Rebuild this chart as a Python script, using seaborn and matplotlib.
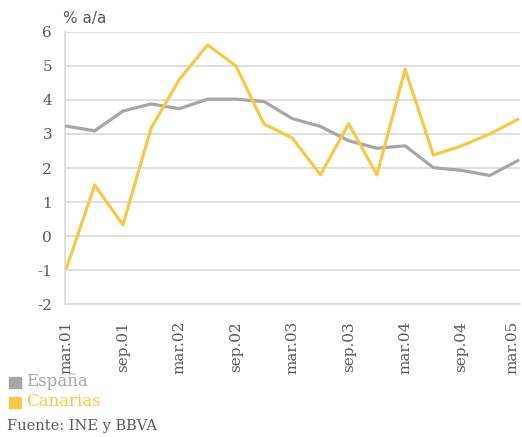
import matplotlib
matplotlib.use("Agg")
import matplotlib.pyplot as plt
import matplotlib.transforms as mtransforms
import seaborn as sns
import pandas as pd
from matplotlib.patches import Rectangle

quarters = ["mar.01", "jun.01", "sep.01", "dic.01",
            "mar.02", "jun.02", "sep.02", "dic.02",
            "mar.03", "jun.03", "sep.03", "dic.03",
            "mar.04", "jun.04", "sep.04", "dic.04",
            "mar.05"]
espana = [3.23, 3.09, 3.67, 3.88, 3.74, 4.02, 4.02, 3.95,
          3.45, 3.22, 2.80, 2.58, 2.65, 2.01, 1.93, 1.78, 2.22]
canarias = [-0.94, 1.50, 0.33, 3.17, 4.60, 5.61, 5.00, 3.29,
            2.88, 1.80, 3.30, 1.80, 4.90, 2.38, 2.65, 3.00, 3.43]
tick_labels = quarters[::2]
yticks = [-2, -1, 0, 1, 2, 3, 4, 5, 6]

GRAY = "#A6A6A6"
YELLOW = "#F6C949"
TEXT = "#595959"
GRID = "#D9D9D9"

df = pd.DataFrame({
    "idx": list(range(len(quarters))) * 2,
    "valor": espana + canarias,
    "serie": ["España"] * len(quarters) + ["Canarias"] * len(quarters),
})

sns.set_theme(style="white")
plt.rcParams["font.family"] = ["DejaVu Serif"]

fig = plt.figure(figsize=(5.22, 4.37), dpi=100)
W, H = 522, 437
ax = fig.add_axes([64.5 / W, 1 - 304.3 / H, (520 - 64.5) / W, (304.3 - 31.7) / H])

sns.lineplot(data=df, x="idx", y="valor", hue="serie",
             palette={"España": GRAY, "Canarias": YELLOW},
             linewidth=2.3, legend=False, ax=ax, zorder=3)

ax.set_xlim(-0.07, 16.07)
ax.set_ylim(-2, 6)
ax.set_yticks(yticks)
ax.set_yticklabels([str(v) for v in yticks], fontsize=11, color=TEXT)
ax.set_xticks(range(0, len(quarters), 2))
ax.set_xticklabels(tick_labels, rotation=90, fontsize=11, color=TEXT)
ax.tick_params(axis="x", length=0, pad=12)
ax.tick_params(axis="y", length=0, pad=9)
ax.set_xlabel("")
ax.set_ylabel("")

# keep the last month label inside the figure
last = ax.get_xticklabels()[-1]
last.set_transform(last.get_transform() +
                   mtransforms.ScaledTranslation(-6 / 100, 0, fig.dpi_scale_trans))

ax.grid(axis="y", color=GRID, linewidth=1.2, zorder=0)
ax.grid(axis="x", visible=False)
for side in ["top", "right"]:
    ax.spines[side].set_visible(False)
ax.spines["left"].set_color(GRID)
ax.spines["left"].set_linewidth(1.2)
ax.spines["bottom"].set_color(GRID)
ax.spines["bottom"].set_linewidth(1.2)

fig.text(63 / W, 1 - 19 / H, "% a/a", fontsize=11, color=TEXT,
         family="DejaVu Sans", va="center", ha="left")

# legend
for i, (name, col) in enumerate([("España", GRAY), ("Canarias", YELLOW)]):
    yc = 382 + i * 20
    fig.patches.append(Rectangle((9 / W, 1 - (yc + 6) / H), 12 / W, 11 / H,
                                 transform=fig.transFigure, color=col))
    fig.text(26 / W, 1 - yc / H, name, fontsize=12, color=col,
             va="center", ha="left")

fig.text(7 / W, 1 - 426 / H, "Fuente: INE y BBVA", fontsize=10.5,
         color=TEXT, va="center", ha="left")

fig.savefig("out.png", dpi=100)
